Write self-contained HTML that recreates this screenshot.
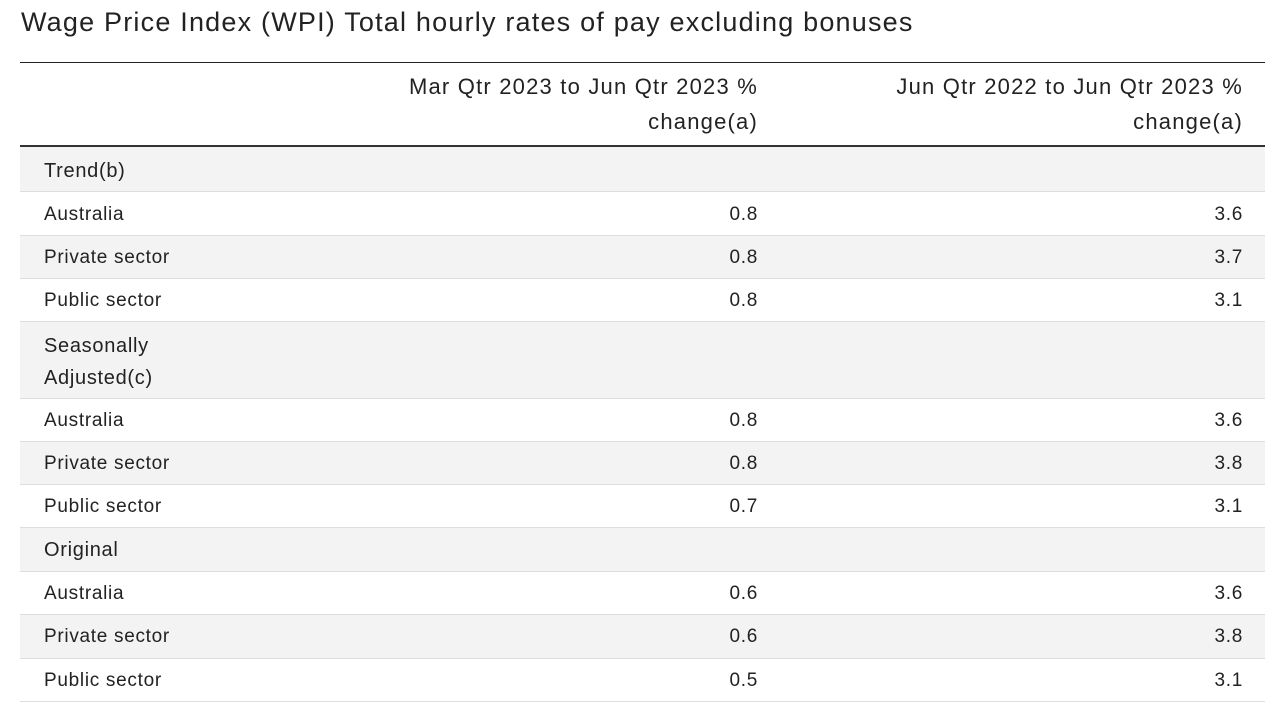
<!DOCTYPE html>
<html><head><meta charset="utf-8"><style>
body{margin:0;width:1280px;height:725px;background:#fff;font-family:"Liberation Sans",sans-serif;color:#222;position:relative;overflow:hidden}
.t{position:absolute;left:21px;top:7px;font-size:27px;letter-spacing:1.2px;color:#222;white-space:nowrap}
.r{position:absolute;left:20px;width:1245px;border-bottom:1px solid #ddd;box-sizing:border-box}
.g{background:#f3f3f3}
.l{position:absolute;left:24px;font-size:19px;letter-spacing:0.7px;white-space:nowrap}
.v{position:absolute;font-size:19px;letter-spacing:0.7px;text-align:right}
.h{position:absolute;font-size:22px;letter-spacing:1.2px;text-align:right;line-height:35px;top:69px;white-space:nowrap}
</style></head><body>
<div class="t">Wage Price Index (WPI) Total hourly rates of pay excluding bonuses</div>
<div style="position:absolute;left:20px;top:62px;width:1245px;height:1px;background:#222"></div>
<div class="h" style="right:522px;width:400px">Mar Qtr 2023 to Jun Qtr 2023 %<br>change(a)</div>
<div class="h" style="right:37px;width:400px">Jun Qtr 2022 to Jun Qtr 2023 %<br>change(a)</div>
<div style="position:absolute;left:20px;top:145px;width:1245px;height:2px;background:#333"></div>

<div class="r g" style="top:147px;height:45px"><span class="l" style="top:13px;font-size:20px">Trend(b)</span></div>
<div class="r" style="top:192px;height:44px"><span class="l" style="top:12px">Australia</span><span class="v" style="right:507px;top:12px">0.8</span><span class="v" style="right:22px;top:12px">3.6</span></div>
<div class="r g" style="top:236px;height:43px"><span class="l" style="top:11px">Private sector</span><span class="v" style="right:507px;top:11px">0.8</span><span class="v" style="right:22px;top:11px">3.7</span></div>
<div class="r" style="top:279px;height:43px"><span class="l" style="top:11px">Public sector</span><span class="v" style="right:507px;top:11px">0.8</span><span class="v" style="right:22px;top:11px">3.1</span></div>
<div class="r g" style="top:322px;height:77px"><span class="l" style="top:8px;font-size:20px;line-height:32px">Seasonally<br>Adjusted(c)</span></div>
<div class="r" style="top:399px;height:43px"><span class="l" style="top:11px">Australia</span><span class="v" style="right:507px;top:11px">0.8</span><span class="v" style="right:22px;top:11px">3.6</span></div>
<div class="r g" style="top:442px;height:43px"><span class="l" style="top:11px">Private sector</span><span class="v" style="right:507px;top:11px">0.8</span><span class="v" style="right:22px;top:11px">3.8</span></div>
<div class="r" style="top:485px;height:43px"><span class="l" style="top:11px">Public sector</span><span class="v" style="right:507px;top:11px">0.7</span><span class="v" style="right:22px;top:11px">3.1</span></div>
<div class="r g" style="top:528px;height:44px"><span class="l" style="top:11px;font-size:20px">Original</span></div>
<div class="r" style="top:572px;height:43px"><span class="l" style="top:11px">Australia</span><span class="v" style="right:507px;top:11px">0.6</span><span class="v" style="right:22px;top:11px">3.6</span></div>
<div class="r g" style="top:615px;height:44px"><span class="l" style="top:11px">Private sector</span><span class="v" style="right:507px;top:11px">0.6</span><span class="v" style="right:22px;top:11px">3.8</span></div>
<div class="r" style="top:659px;height:43px"><span class="l" style="top:11px">Public sector</span><span class="v" style="right:507px;top:11px">0.5</span><span class="v" style="right:22px;top:11px">3.1</span></div>
</body></html>
